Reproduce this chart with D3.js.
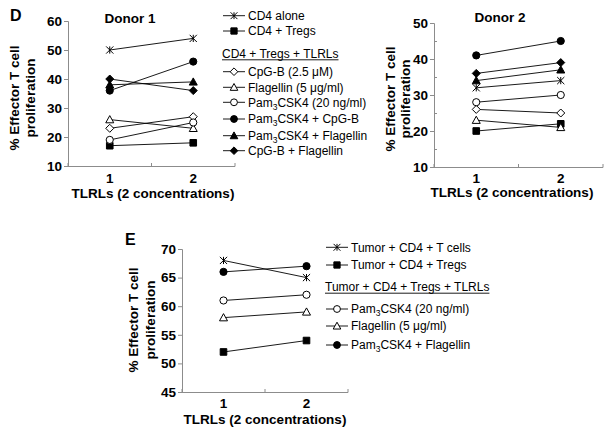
<!DOCTYPE html>
<html>
<head>
<meta charset="utf-8">
<script src="https://cdn.jsdelivr.net/npm/d3@7"></script>
<style>
  html, body { margin: 0; padding: 0; background: #fff; }
  svg { display: block; }
  text { font-family: "Liberation Sans", Arial, Helvetica, sans-serif; fill: #000; }
</style>
</head>
<body>
<svg id="chart" width="612" height="437"></svg>
<script>
// ---------------- DATA ----------------
const categories = ["1", "2"];

const seriesD = ["CD4 alone", "CD4 + Tregs", "CpG-B (2.5 μM)", "Flagellin (5 μg/ml)",
  "Pam3CSK4 (20 ng/ml)", "Pam3CSK4 + CpG-B", "Pam3CSK4 + Flagellin", "CpG-B + Flagellin"];
const markersD = ["asterisk", "squareFilled", "diamondOpen", "triangleOpen",
  "circleOpen", "circleFilled", "triangleFilled", "diamondFilled"];
const donor1Values = [[50, 54], [17, 18], [23, 27], [26, 23], [19, 25], [36, 46], [38, 39], [40, 36]];
const donor2Values = [[32, 34], [20, 22], [26, 25], [23, 21], [28, 30], [41, 45], [34, 37], [36, 39]];

const seriesE = ["Tumor + CD4 + T cells", "Tumor + CD4 + Tregs",
  "Pam3CSK4 (20 ng/ml)", "Flagellin (5 μg/ml)", "Pam3CSK4 + Flagellin"];
const markersE = ["asterisk", "squareFilled", "circleOpen", "triangleOpen", "circleFilled"];
const panelEValues = [[68, 65], [52, 54], [61, 62], [58, 59], [66, 67]];

const ticksDonor1 = [10, 20, 30, 40, 50, 60];
const ticksDonor2 = [10, 20, 30, 40, 50];
const minorTicksDonor2 = [15, 25, 35, 45];
const ticksE = [45, 50, 55, 60, 65, 70];

const headerD = "CD4 + Tregs + TLRLs";
const headerE = "Tumor + CD4 + Tregs + TLRLs";
const yTitle = ["% Effector T cell", "proliferation"];
const xTitle = "TLRLs (2 concentrations)";

// ---------------- DRAWING ----------------
const svg = d3.select("#chart");
const AXIS = "#8c8c8c";

function markerPath(type, s) {
  const p = d3.path();
  if (type.startsWith("circle")) {
    p.arc(0, 0, 3.6 * s, 0, 2 * Math.PI);
  } else if (type.startsWith("square")) {
    const h = 3.3 * s; p.rect(-h, -h, 2 * h, 2 * h);
  } else if (type.startsWith("diamond")) {
    const h = 4.0 * s; p.moveTo(0, -h); p.lineTo(h, 0); p.lineTo(0, h); p.lineTo(-h, 0); p.closePath();
  } else if (type.startsWith("triangle")) {
    const h = 4.0 * s; p.moveTo(0, -h); p.lineTo(h, h * 0.8); p.lineTo(-h, h * 0.8); p.closePath();
  } else if (type === "asterisk") {
    const h = 3.6 * s;
    p.moveTo(-h, -h); p.lineTo(h, h); p.moveTo(-h, h); p.lineTo(h, -h);
    p.moveTo(0, -h); p.lineTo(0, h);
  }
  return p.toString();
}

function drawMarker(g, type, x, y, s) {
  const filled = type.endsWith("Filled");
  g.append("path")
    .attr("d", markerPath(type, s))
    .attr("transform", `translate(${x},${y})`)
    .attr("fill", type === "asterisk" ? "none" : (filled ? "#000" : "#fff"))
    .attr("stroke", "#000")
    .attr("stroke-width", 1);
}

function richText(sel, str) {
  // Render "Pam3CSK4" with subscript 3
  const parts = str.split("Pam3");
  parts.forEach((part, i) => {
    if (i > 0) {
      sel.append("tspan").text("Pam");
      sel.append("tspan").attr("font-size", "8.5px").attr("dy", 3).text("3");
      sel.append("tspan").attr("dy", -3).text(part);
    } else if (part.length) {
      sel.append("tspan").text(part);
    }
  });
}

function drawPanel(cfg) {
  const g = svg.append("g");
  const x = d3.scaleBand().domain(cfg.categories).range(cfg.xRange).padding(0);
  const y = d3.scaleLinear().domain(cfg.yDomain).range(cfg.yRange);

  // y axis
  const yAxis = d3.axisLeft(y).tickValues(cfg.ticks).tickSize(4).tickPadding(2);
  const ya = g.append("g").attr("transform", `translate(${cfg.xRange[0]},0)`).call(yAxis);
  ya.select(".domain").attr("stroke", AXIS);
  ya.selectAll(".tick line").attr("stroke", AXIS);
  ya.selectAll(".tick text").attr("font-size", "13.5px").attr("font-weight", "bold")
    .attr("font-family", "Liberation Sans, Arial, sans-serif").attr("fill", "#000");
  if (cfg.minorTicks) {
    cfg.minorTicks.forEach(v => g.append("line")
      .attr("x1", cfg.xRange[0]).attr("x2", cfg.xRange[0] + 3)
      .attr("y1", Math.round(y(v)) + 0.5).attr("y2", Math.round(y(v)) + 0.5).attr("stroke", AXIS));
  }

  // x axis (ticks at category boundaries, pointing up)
  const bounds = [cfg.xRange[0], ...cfg.categories.map(c => x(c) + x.bandwidth())];
  const y0 = cfg.yRange[0];
  g.append("line").attr("x1", cfg.xRange[0]).attr("x2", cfg.xRange[1])
    .attr("y1", y0 + 0.5).attr("y2", y0 + 0.5).attr("stroke", AXIS);
  bounds.forEach(b => g.append("line").attr("x1", b).attr("x2", b)
    .attr("y1", y0 + 0.5).attr("y2", y0 - 3).attr("stroke", AXIS));
  cfg.categories.forEach(c => g.append("text")
    .attr("x", x(c) + x.bandwidth() / 2).attr("y", cfg.catBaseline)
    .attr("text-anchor", "middle").attr("font-size", "13.5px").attr("font-weight", "bold").text(c));
  g.append("text").attr("x", cfg.xTitleX).attr("y", cfg.xTitleY)
    .attr("text-anchor", "middle").attr("font-size", "13.5px").attr("font-weight", "bold").text(xTitle);

  // y title
  yTitle.forEach((t, i) => g.append("text")
    .attr("transform", `translate(${cfg.yTitleX[i]},${cfg.yTitleCy}) rotate(-90)`)
    .attr("text-anchor", "middle").attr("font-size", "13.5px").attr("font-weight", "bold").text(t));

  if (cfg.title) {
    g.append("text").attr("x", cfg.title.x).attr("y", cfg.title.y)
      .attr("text-anchor", "middle").attr("font-size", "13.5px").attr("font-weight", "bold").text(cfg.title.text);
  }
  if (cfg.letter) {
    g.append("text").attr("x", cfg.letter.x).attr("y", cfg.letter.y)
      .attr("font-size", "16px").attr("font-weight", "bold").text(cfg.letter.text);
  }

  const cx = c => x(c) + x.bandwidth() / 2;
  const line = d3.line().x((d, i) => cx(cfg.categories[i])).y(d => y(d));
  cfg.values.forEach(vals => {
    g.append("path").attr("d", line(vals)).attr("fill", "none")
      .attr("stroke", "#000").attr("stroke-width", 0.9);
  });
  cfg.values.forEach((vals, si) => {
    vals.forEach((v, i) => drawMarker(g, cfg.markers[si], cx(cfg.categories[i]), y(v), 1));
  });
}

function drawLegend(cfg) {
  const g = svg.append("g");
  cfg.names.forEach((name, i) => {
    const cy = cfg.rows[i];
    g.append("line").attr("x1", cfg.x0).attr("x2", cfg.x0 + 22)
      .attr("y1", cy).attr("y2", cy).attr("stroke", "#000").attr("stroke-width", 0.9);
    drawMarker(g, cfg.markers[i], cfg.x0 + 11, cy, 0.95);
    const t = g.append("text").attr("x", cfg.x0 + 25).attr("y", cy + 4.3).attr("font-size", "12px");
    richText(t, name);
  });
  const ht = g.append("text").attr("x", cfg.headerX).attr("y", cfg.headerY + 4.3)
    .attr("font-size", "12px").text(cfg.header);
  const w = ht.node().getComputedTextLength();
  g.append("line").attr("x1", cfg.headerX).attr("x2", cfg.headerX + w)
    .attr("y1", cfg.headerY + 6.5).attr("y2", cfg.headerY + 6.5).attr("stroke", "#000").attr("stroke-width", 0.9);
}

drawPanel({
  categories, values: donor1Values, markers: markersD, ticks: ticksDonor1,
  xRange: [68, 235], yDomain: [10, 60], yRange: [166, 21],
  catBaseline: 183, xTitleX: 153, xTitleY: 198,
  yTitleX: [19, 35], yTitleCy: 98,
  title: { text: "Donor 1", x: 130, y: 23 },
  letter: { text: "D", x: 10, y: 21 }
});

drawPanel({
  categories, values: donor2Values, markers: markersD, ticks: ticksDonor2,
  minorTicks: minorTicksDonor2,
  xRange: [434, 603], yDomain: [10, 50], yRange: [167, 23],
  catBaseline: 183, xTitleX: 512, xTitleY: 197,
  yTitleX: [395, 410], yTitleCy: 99,
  title: { text: "Donor 2", x: 500, y: 22 }
});

drawPanel({
  categories, values: panelEValues, markers: markersE, ticks: ticksE,
  xRange: [182, 348], yDomain: [45, 70], yRange: [392, 249],
  catBaseline: 408, xTitleX: 265, xTitleY: 424,
  yTitleX: [138, 155], yTitleCy: 320,
  letter: { text: "E", x: 125, y: 245 }
});

drawLegend({
  names: seriesD,
  markers: markersD,
  rows: [15.7, 31, 71.7, 87.3, 102.3, 119, 135.7, 150.7],
  x0: 223, header: headerD, headerX: 222, headerY: 53.3
});

drawLegend({
  names: seriesE, markers: markersE,
  rows: [247.3, 265, 309, 326, 345],
  x0: 326, header: headerE, headerX: 325, headerY: 286.7
});
</script>
</body>
</html>
